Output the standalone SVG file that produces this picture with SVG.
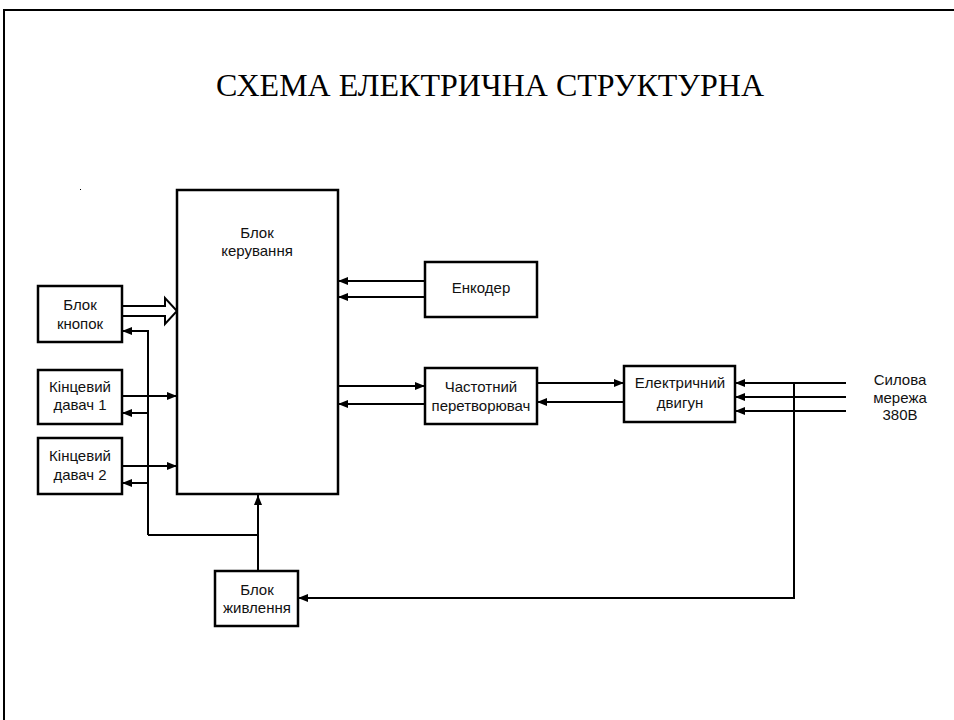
<svg xmlns="http://www.w3.org/2000/svg" width="954" height="720" viewBox="0 0 954 720">
<style>
.box{fill:#fff;stroke:#000;stroke-width:2.5}
.ln{fill:none;stroke:#000;stroke-width:2}
.t{font-family:"Liberation Sans",Arial,sans-serif;font-size:15px;fill:#111;text-anchor:middle}
.title{font-family:"Liberation Serif","Times New Roman",serif;font-size:32px;fill:#000;text-anchor:middle}
</style>
<defs>
<marker id="ah" viewBox="0 0 10 8" refX="10" refY="4" markerWidth="10" markerHeight="8" markerUnits="userSpaceOnUse" orient="auto">
<path d="M0,0 L10,4 L0,8 Z" fill="#000"/>
</marker>
</defs>
<rect width="954" height="720" fill="#fff"/>
<path d="M4,720 V10 H954" fill="none" stroke="#000" stroke-width="2"/>
<rect x="80" y="189" width="1" height="1" fill="#000"/>
<text class="title" x="490" y="96">СХЕМА ЕЛЕКТРИЧНА СТРУКТУРНА</text>

<g id="connectors">
<path class="ln" d="M122,306 H165 V298 L177,311 L165,324 V316 H122"/>
<path class="ln" d="M148,535 V331 H122" marker-end="url(#ah)"/>
<path class="ln" d="M122,396 H177" marker-end="url(#ah)"/>
<path class="ln" d="M148,413 H122" marker-end="url(#ah)"/>
<path class="ln" d="M122,466 H177" marker-end="url(#ah)"/>
<path class="ln" d="M148,483 H122" marker-end="url(#ah)"/>
<path class="ln" d="M148,535 H258"/>
<path class="ln" d="M258,571 V495" marker-end="url(#ah)"/>
<path class="ln" d="M425,281 H338" marker-end="url(#ah)"/>
<path class="ln" d="M425,297 H338" marker-end="url(#ah)"/>
<path class="ln" d="M338,386 H425" marker-end="url(#ah)"/>
<path class="ln" d="M425,404 H338" marker-end="url(#ah)"/>
<path class="ln" d="M537,383 H624" marker-end="url(#ah)"/>
<path class="ln" d="M624,402 H537" marker-end="url(#ah)"/>
<path class="ln" d="M846,383 H735" marker-end="url(#ah)"/>
<path class="ln" d="M846,397 H735" marker-end="url(#ah)"/>
<path class="ln" d="M846,411 H735" marker-end="url(#ah)"/>
<path class="ln" d="M794,383 V598 H298" marker-end="url(#ah)"/>
</g>

<g id="control">
<rect class="box" x="177" y="190" width="161" height="304"/>
<text class="t" x="257" y="238">Блок</text>
<text class="t" x="257" y="256">керування</text>
</g>
<g id="buttons">
<rect class="box" x="38" y="286" width="84" height="56"/>
<text class="t" x="80" y="310">Блок</text>
<text class="t" x="80" y="329">кнопок</text>
</g>
<g id="limit1">
<rect class="box" x="38" y="370" width="84" height="54"/>
<text class="t" x="80" y="392">Кінцевий</text>
<text class="t" x="80" y="410">давач 1</text>
</g>
<g id="limit2">
<rect class="box" x="38" y="438" width="84" height="56"/>
<text class="t" x="80" y="461">Кінцевий</text>
<text class="t" x="80" y="480">давач 2</text>
</g>
<g id="power">
<rect class="box" x="215" y="571" width="83" height="55"/>
<text class="t" x="257" y="595">Блок</text>
<text class="t" x="257" y="613">живлення</text>
</g>
<g id="encoder">
<rect class="box" x="425" y="262" width="112" height="55"/>
<text class="t" x="481" y="293">Енкодер</text>
</g>
<g id="inverter">
<rect class="box" x="425" y="368" width="112" height="56"/>
<text class="t" x="481" y="392">Частотний</text>
<text class="t" x="481" y="411">перетворювач</text>
</g>
<g id="motor">
<rect class="box" x="624" y="366" width="111" height="56"/>
<text class="t" x="680" y="388">Електричний</text>
<text class="t" x="680" y="408">двигун</text>
</g>
<g id="mains">
<text class="t" x="900" y="385">Силова</text>
<text class="t" x="900" y="403">мережа</text>
<text class="t" x="900" y="420">380В</text>
</g>
</svg>
